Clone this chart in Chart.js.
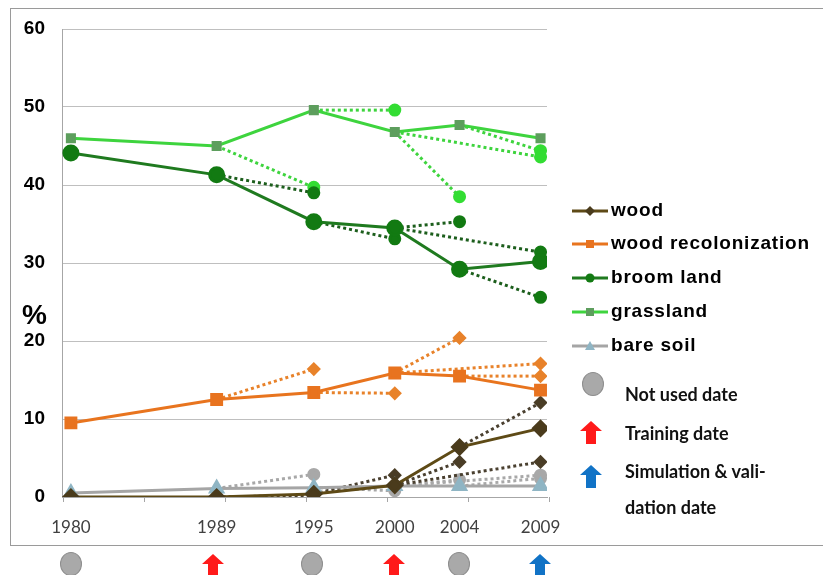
<!DOCTYPE html>
<html>
<head>
<meta charset="utf-8">
<script src="https://cdn.jsdelivr.net/npm/chart.js@4.4.1/dist/chart.umd.min.js"></script>
<style>
  body { margin: 0; background: #fff; }
  #wrap { position: relative; width: 823px; height: 575px; overflow: hidden; }
  #frame { position: absolute; left: 10px; top: 8px; width: 840px; height: 538px; border: 1.5px solid #9a9a9a; box-sizing: border-box; }
  canvas { position: absolute; left: 0; top: 0; }
  .pct { position: absolute; left: 22px; top: 299px; font: bold 28px "Liberation Sans", Arial, sans-serif; }
  .leg { position: absolute; left: 572px; font: bold 19px "Liberation Sans", Arial, sans-serif; letter-spacing: 0.8px; color: #000; white-space: nowrap; }
  .leg svg { vertical-align: middle; margin-right: 3px; }
  .note { position: absolute; left: 625px; font: bold 18px Lato, "Liberation Sans", sans-serif; color: #111; white-space: nowrap; }
  .dot { position: absolute; width: 22px; height: 24px; border-radius: 50%; background: #a9a9a9; border: 1px solid #8e8e8e; box-sizing: border-box; }
  .arr { position: absolute; }
</style>
</head>
<body>
<div id="wrap">
  <div id="frame"></div>
  <canvas id="c" width="823" height="575"></canvas>
  <div class="pct">%</div>
  <div id="legend"></div>
</div>
<script>
// annees observees
const years = [1980, 1989, 1995, 2000, 2004, 2009];
const wood = [0.0, 0.0, 0.4, 1.5, 6.4, 8.8];
const woodRecol = [9.5, 12.5, 13.4, 15.9, 15.5, 13.7];
const broomLand = [44.1, 41.3, 35.3, 34.5, 29.2, 30.2];
const grassland = [46.0, 45.0, 49.6, 46.8, 47.7, 46.0];
const bareSoil = [0.5, 1.1, 1.2, 1.4, 1.4, 1.4];

// simulazioni: da anno -> ad anno
const simFrom = [1989, 1995, 2000, 2000, 2004];
const simTo = [1995, 2000, 2004, 2009, 2009];
const woodSim = [0.2, 2.8, 4.5, 4.5, 12.1];
const woodRecolSim = [16.4, 13.3, 20.4, 17.1, 15.5];
const broomLandSim = [39.0, 33.1, 35.3, 31.4, 25.6];
const grasslandSim = [39.7, 49.6, 38.5, 43.6, 44.4];
const bareSoilSim = [2.9, 0.8, 2.2, 2.8, 2.4];

// date: not used / training / simulation
const dateKinds = ['none', 'train', 'none', 'train', 'none', 'sim'];

const series = [
  { label: 'wood', values: wood, sim: woodSim, color: '#5E4A16', marker: '#4A3B1C', style: 'rectRot', r: 7, simColor: '#4A4030', simMarker: '#4A3D26', simStyle: 'rectRot' },
  { label: 'wood recolonization', values: woodRecol, sim: woodRecolSim, color: '#E8741E', marker: '#E8731F', style: 'rect', r: 7, simColor: '#E8822A', simMarker: '#E8822A', simStyle: 'rectRot' },
  { label: 'broom land', values: broomLand, sim: broomLandSim, color: '#1F7A1F', marker: '#127A12', style: 'circle', r: 7, simColor: '#1C5E1C', simMarker: '#127A12', simStyle: 'circle' },
  { label: 'grassland', values: grassland, sim: grasslandSim, color: '#3ED43E', marker: '#5D9E5D', style: 'rect', r: 5, simColor: '#3ED43E', simMarker: '#33DD33', simStyle: 'circle' },
  { label: 'bare soil', values: bareSoil, sim: bareSoilSim, color: '#A5A5A5', marker: '#8FB5C4', style: 'triangle', r: 7, simColor: '#A8A8A8', simMarker: '#A8A8A8', simStyle: 'circle' }
];

const datasets = [];
series.forEach(s => {
  datasets.push({
    label: s.label,
    data: years.map((y, i) => ({ x: y, y: s.values[i] })),
    borderColor: s.color,
    backgroundColor: s.marker,
    pointBorderColor: s.marker,
    pointStyle: s.style,
    pointRadius: s.r,
    borderWidth: 3,
    order: 0
  });
  simFrom.forEach((f, k) => {
    const start = s.values[years.indexOf(f)];
    datasets.push({
      label: s.label + ' sim',
      data: [{ x: f, y: start }, { x: simTo[k], y: s.sim[k] }],
      borderColor: s.simColor,
      backgroundColor: s.simMarker,
      pointBorderColor: s.simMarker,
      pointStyle: s.simStyle,
      pointRadius: [0, 5],
      borderWidth: 3,
      borderDash: [3, 3],
      borderCapStyle: 'butt',
      order: 1
    });
  });
});

// piccoli tick dell'asse x ogni 5 anni
const xTicks = {
  id: 'xTicks',
  afterDraw(chart) {
    const x = chart.scales.x, ctx = chart.ctx, bottom = chart.chartArea.bottom;
    ctx.save();
    ctx.strokeStyle = '#a6a6a6';
    ctx.lineWidth = 1;
    for (let v = 1979.5; v <= 2009.5; v += 5) {
      const px = Math.round(x.getPixelForValue(v)) + 0.5;
      ctx.beginPath();
      ctx.moveTo(px, bottom);
      ctx.lineTo(px, bottom + 5);
      ctx.stroke();
    }
    ctx.restore();
  }
};

new Chart(document.getElementById('c'), {
  type: 'line',
  data: { datasets },
  options: {
    responsive: false,
    animation: false,
    layout: { padding: { left: 0, right: 276, top: 29, bottom: 0 } },
    plugins: { legend: { display: false }, tooltip: { enabled: false } },
    scales: {
      x: {
        type: 'linear',
        min: 1979.45,
        max: 2009.4,
        afterBuildTicks: s => { s.ticks = years.map(v => ({ value: v })); },
        afterFit: s => { s.height = 78; },
        grid: { drawOnChartArea: false, drawTicks: false },
        border: { color: '#a6a6a6' },
        ticks: { padding: 20, color: '#404040', font: { family: 'Lato, "Liberation Sans", sans-serif', size: 17 }, callback: v => String(v), maxRotation: 0 }
      },
      y: {
        min: 0,
        max: 60,
        afterFit: s => { s.width = 62; },
        grid: { color: '#bfbfbf', drawTicks: false },
        border: { color: '#a6a6a6' },
        ticks: { stepSize: 10, padding: 17, color: '#000', font: { family: '"Liberation Sans", Arial, sans-serif', size: 19, weight: 'bold' } }
      }
    }
  },
  plugins: [xTicks]
});

// legenda HTML
function symbol(s) {
  let m = '';
  if (s.style === 'rectRot') m = '<polygon points="18,4 23,9 18,14 13,9" fill="' + s.marker + '"/>';
  else if (s.style === 'rect') m = '<rect x="14" y="5" width="8" height="8" fill="' + s.marker + '"/>';
  else if (s.style === 'circle') m = '<circle cx="18" cy="9" r="4.5" fill="' + s.marker + '"/>';
  else m = '<polygon points="18,4 23,13 13,13" fill="' + s.marker + '"/>';
  return '<svg width="36" height="18"><line x1="0" y1="9" x2="36" y2="9" stroke="' + s.color + '" stroke-width="3"/>' + m + '</svg>';
}
const legendTops = [199, 232, 266, 300, 334];
const leg = document.getElementById('legend');
series.forEach((s, i) => {
  const d = document.createElement('div');
  d.className = 'leg';
  d.style.top = legendTops[i] + 'px';
  d.innerHTML = symbol(s) + s.label;
  leg.appendChild(d);
});

const arrowSvg = c => '<svg width="24" height="24"><polygon points="12,1 23,11 17,11 17,24 7,24 7,11 1,11" fill="' + c + '"/></svg>';
const notes = [
  { text: 'Not used date', top: 383, icon: '<div class="dot" style="left:582px;top:372px"></div>' },
  { text: 'Training date', top: 422, icon: '<div class="arr" style="left:579px;top:420px">' + arrowSvg('#ff1a1a') + '</div>' },
  { text: 'Simulation & vali-', top: 460, icon: '<div class="arr" style="left:579px;top:464px">' + arrowSvg('#1173c6') + '</div>' },
  { text: 'dation date', top: 496, icon: '' }
];
notes.forEach(n => {
  leg.insertAdjacentHTML('beforeend', n.icon + '<div class="note" style="top:' + n.top + 'px">' + n.text + '</div>');
});

// icone sotto l'asse x
const iconX = [71, 213, 312, 394, 459, 540];
dateKinds.forEach((k, i) => {
  const html = k === 'none'
    ? '<div class="dot" style="left:' + (iconX[i] - 11) + 'px;top:552px"></div>'
    : '<div class="arr" style="left:' + (iconX[i] - 12) + 'px;top:553px">' + arrowSvg(k === 'train' ? '#ff1a1a' : '#1173c6') + '</div>';
  leg.insertAdjacentHTML('beforeend', html);
});
</script>
</body>
</html>
